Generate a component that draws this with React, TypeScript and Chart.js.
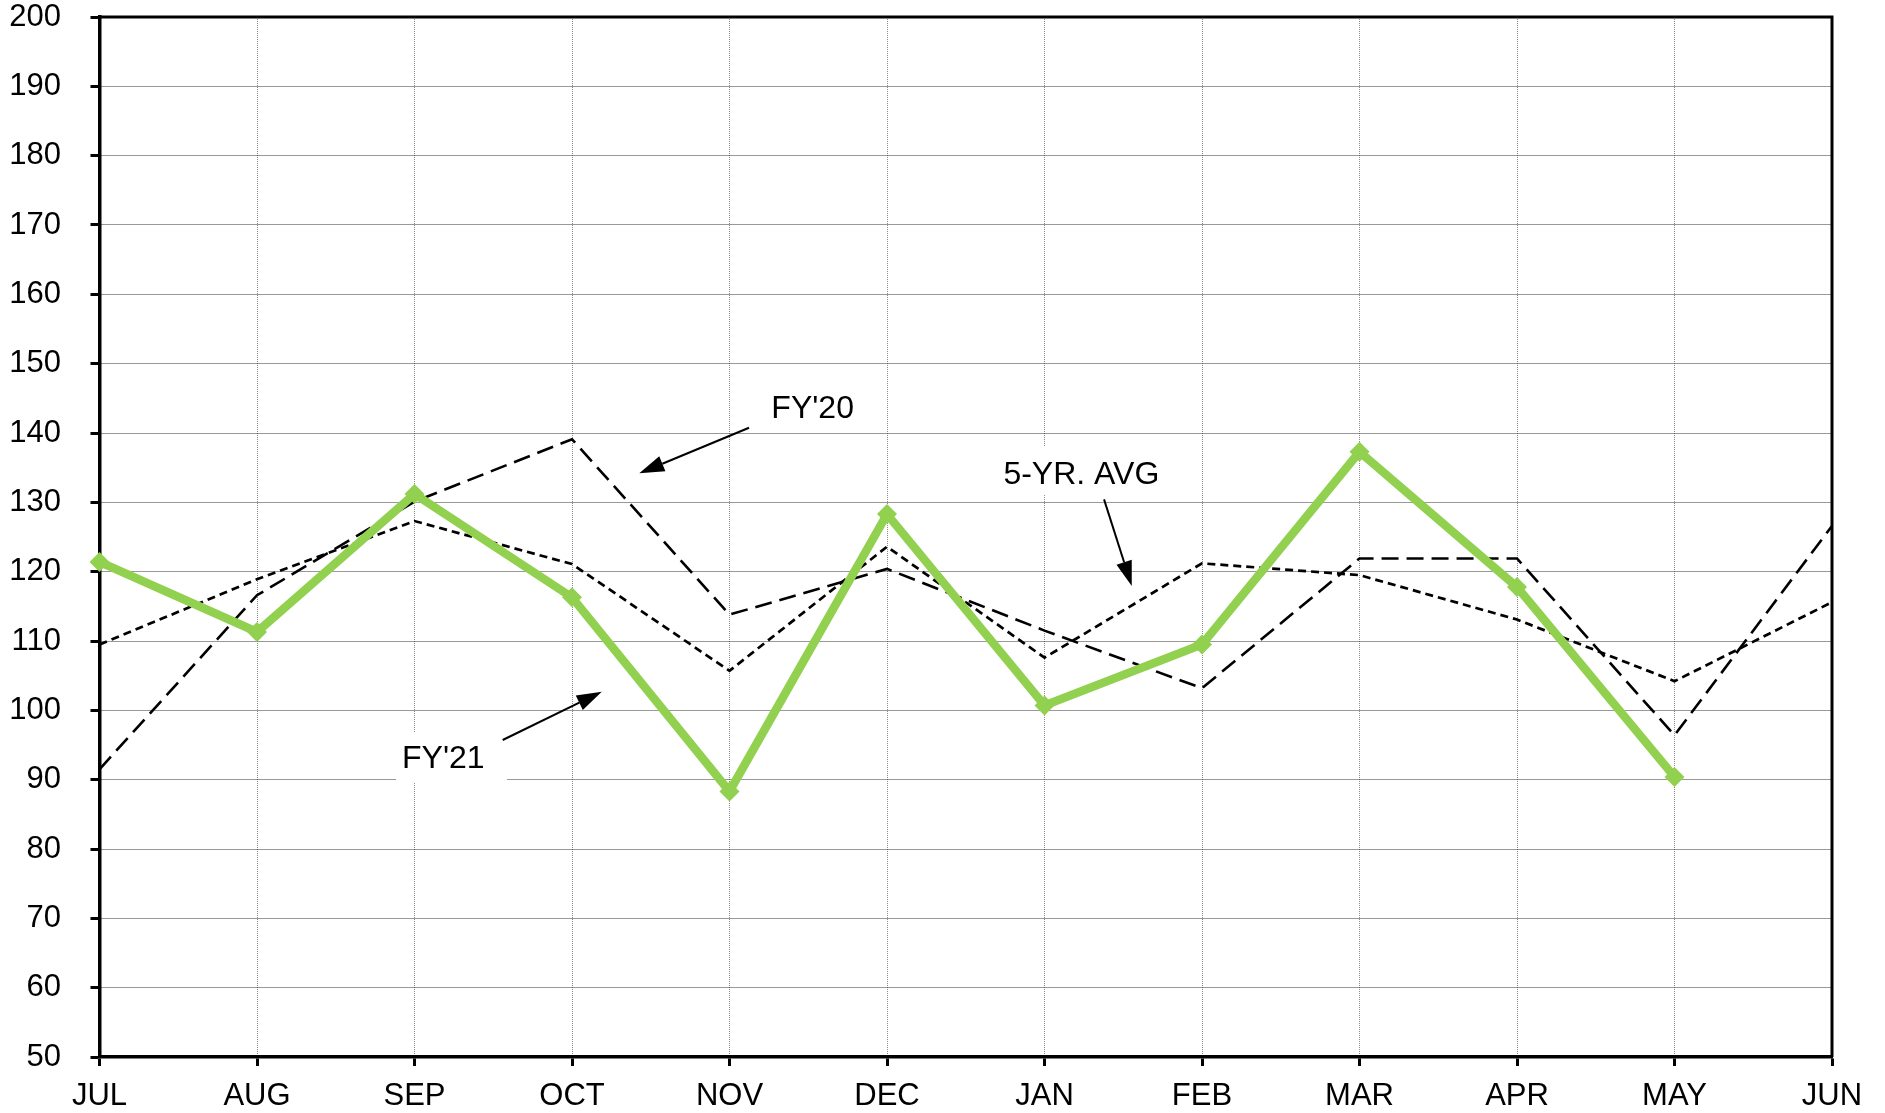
import React, { useEffect, useRef } from "react";
import { Chart, registerables } from "chart.js";

Chart.register(...registerables);

const months = ["JUL", "AUG", "SEP", "OCT", "NOV", "DEC", "JAN", "FEB", "MAR", "APR", "MAY", "JUN"];
const fy21 = [121.4, 111.3, 131.2, 116.3, 88.3, 128.3, 100.7, 109.5, 137.3, 117.8, 90.4, null];
const fy20 = [91.5, 116.6, 130.1, 139.1, 113.8, 120.4, 111.5, 103.2, 121.9, 121.9, 96.4, 126.6];
const fiveYrAvg = [109.5, 118.9, 127.3, 121.1, 105.7, 123.6, 107.6, 121.2, 119.5, 113.1, 104.2, 115.6];

const yMin = 50;
const yMax = 200;
const yStep = 10;

// annotation labels in data space: [categoryIndex, value]
const annotationTexts = ["FY'20", "FY'21", "5-YR. AVG"];
const annotationAt = [
  [4.528, 143.45],
  [2.183, 92.95],
  [6.234, 133.95],
];
const annotationBox = [
  [4.219, 4.943, 147.35, 140.28],
  [1.883, 2.587, 96.87, 89.54],
  [5.679, 6.886, 138.0, 131.05],
];
const arrowFrom = [
  [4.124, 140.76],
  [2.56, 95.72],
  [6.378, 130.43],
];
const arrowTo = [
  [3.427, 134.18],
  [3.189, 102.68],
  [6.554, 117.93],
];

const FONT = '"Liberation Sans", Arial, Helvetica, sans-serif';
const GREEN = "#92D050";

const boxPlugin = {
  id: "annotBoxes",
  beforeDatasetsDraw(chart: any) {
    const { ctx, scales } = chart;
    const x = scales.x;
    const y = scales.y;
    ctx.save();
    ctx.fillStyle = "#ffffff";
    for (const b of annotationBox) {
      const x0 = x.getPixelForValue(b[0]);
      const x1 = x.getPixelForValue(b[1]);
      const y0 = y.getPixelForValue(b[2]);
      const y1 = y.getPixelForValue(b[3]);
      ctx.fillRect(x0, y0, x1 - x0, y1 - y0);
    }
    ctx.restore();
  },
  afterDatasetsDraw(chart: any) {
    const { ctx, scales, chartArea } = chart;
    const x = scales.x;
    const y = scales.y;
    ctx.save();
    // top and right frame
    ctx.strokeStyle = "#000";
    ctx.lineWidth = 3;
    ctx.beginPath();
    ctx.moveTo(chartArea.left, chartArea.top);
    ctx.lineTo(chartArea.right, chartArea.top);
    ctx.lineTo(chartArea.right, chartArea.bottom);
    ctx.stroke();

    // texts
    ctx.fillStyle = "#000";
    ctx.font = `32px ${FONT}`;
    ctx.textAlign = "center";
    ctx.textBaseline = "middle";
    annotationTexts.forEach((t, i) => {
      ctx.fillText(t, x.getPixelForValue(annotationAt[i][0]), y.getPixelForValue(annotationAt[i][1]));
    });

    // arrows
    for (let i = 0; i < arrowFrom.length; i++) {
      const fx = x.getPixelForValue(arrowFrom[i][0]);
      const fy = y.getPixelForValue(arrowFrom[i][1]);
      const tx = x.getPixelForValue(arrowTo[i][0]);
      const ty = y.getPixelForValue(arrowTo[i][1]);
      const ang = Math.atan2(ty - fy, tx - fx);
      const headLen = 25;
      const headHalf = 8;
      const bx = tx - headLen * Math.cos(ang);
      const by = ty - headLen * Math.sin(ang);
      ctx.lineWidth = 2;
      ctx.beginPath();
      ctx.moveTo(fx, fy);
      ctx.lineTo(bx, by);
      ctx.stroke();
      ctx.beginPath();
      ctx.moveTo(tx, ty);
      ctx.lineTo(bx + headHalf * Math.sin(ang), by - headHalf * Math.cos(ang));
      ctx.lineTo(bx - headHalf * Math.sin(ang), by + headHalf * Math.cos(ang));
      ctx.closePath();
      ctx.fill();
    }
    ctx.restore();
  },
};

export default function App() {
  const ref = useRef<HTMLCanvasElement | null>(null);

  useEffect(() => {
    if (!ref.current) return;
    const chart = new Chart(ref.current, {
      type: "line",
      data: {
        labels: months,
        datasets: [
          {
            label: "FY'21",
            data: fy21,
            borderColor: GREEN,
            backgroundColor: GREEN,
            borderWidth: 8.5,
            pointStyle: "rectRot",
            pointRadius: 10,
            pointBorderWidth: 0,
            pointBackgroundColor: GREEN,
            tension: 0,
            order: 0,
            spanGaps: false,
          },
          {
            label: "FY'20",
            data: fy20,
            borderColor: "#000",
            borderWidth: 2.6,
            borderDash: [17, 8],
            pointRadius: 0,
            tension: 0,
            order: 1,
          },
          {
            label: "5-YR. AVG",
            data: fiveYrAvg,
            borderColor: "#000",
            borderWidth: 2.7,
            borderDash: [8, 5],
            pointRadius: 0,
            tension: 0,
            order: 2,
          },
        ],
      },
      plugins: [boxPlugin],
      options: {
        animation: false,
        responsive: false,
        devicePixelRatio: 1,
        layout: { padding: { left: 0, right: 53, top: 0, bottom: 0 } },
        plugins: {
          legend: { display: false },
          tooltip: { enabled: false },
        },
        events: [],
        scales: {
          x: {
            type: "category",
            offset: false,
            afterFit: (s: any) => {
              s.height = 56;
            },
            grid: {
              offset: false,
              color: "#8a8a8a",
              lineWidth: 1,
              drawTicks: true,
              tickLength: 9,
              tickColor: "#000",
              tickWidth: 3,
              tickBorderDash: [],
            },
            border: { display: true, color: "#000", width: 3.5, dash: [1, 1] },
            ticks: {
              color: "#000",
              font: { family: FONT, size: 31 },
              padding: 11.5,
              maxRotation: 0,
              autoSkip: false,
            },
          },
          y: {
            type: "linear",
            min: yMin,
            max: yMax,
            afterFit: (s: any) => {
              s.width = 99.5;
              s.paddingTop = 17;
              s.paddingBottom = 0;
            },
            grid: {
              color: "#333333",
              lineWidth: 1,
              drawTicks: true,
              tickLength: 9,
              tickColor: "#000",
              tickWidth: 3,
              tickBorderDash: [],
            },
            border: { display: true, color: "#000", width: 3.5, dash: [1, 1] },
            ticks: {
              stepSize: yStep,
              color: "#000",
              font: { family: FONT, size: 31 },
              padding: 29.5,
            },
          },
        },
      },
    } as any);
    return () => chart.destroy();
  }, []);

  return (
    <div style={{ position: "absolute", left: 0, top: 0, width: 1885, height: 1113, background: "#fff" }}>
      <canvas ref={ref} width={1885} height={1113} />
    </div>
  );
}
